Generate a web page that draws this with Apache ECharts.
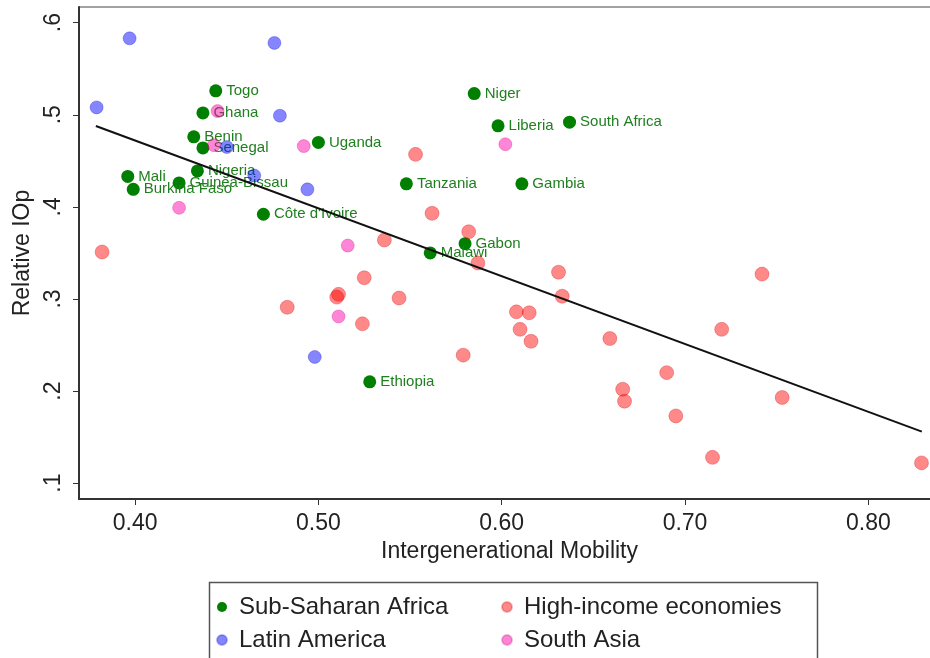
<!DOCTYPE html>
<html>
<head>
<meta charset="utf-8">
<script src="https://cdn.jsdelivr.net/npm/echarts@6/dist/echarts.min.js"></script>
<style>
html,body{margin:0;padding:0;background:#fff;}
#chart{width:930px;height:658px;}
</style>
</head>
<body>
<div id="chart"></div>
<script>
// ---- Data ----
const ssaNames = ["Togo","Ghana","Benin","Senegal","Nigeria","Mali","Burkina Faso","Guinea-Bissau","Uganda","Côte d'Ivoire","Ethiopia","Malawi","Gabon","Tanzania","Gambia","Niger","Liberia","South Africa"];
const ssaX = [0.444,0.437,0.432,0.437,0.434,0.396,0.399,0.424,0.500,0.470,0.528,0.561,0.580,0.548,0.611,0.585,0.598,0.637];
const ssaY = [0.526,0.502,0.476,0.464,0.439,0.433,0.419,0.426,0.470,0.392,0.210,0.350,0.360,0.425,0.425,0.523,0.488,0.492];

const laX = [0.397,0.476,0.379,0.479,0.450,0.465,0.494,0.498];
const laY = [0.583,0.578,0.508,0.499,0.465,0.434,0.419,0.237];

const hieX = [0.382,0.553,0.562,0.582,0.536,0.587,0.631,0.633,0.742,0.608,0.615,0.610,0.616,0.659,0.720,0.690,0.666,0.667,0.695,0.753,0.715,0.829,0.525,0.511,0.510,0.544,0.483,0.524,0.579];
const hieY = [0.351,0.457,0.393,0.373,0.364,0.339,0.329,0.303,0.327,0.286,0.285,0.267,0.254,0.257,0.267,0.220,0.202,0.189,0.173,0.193,0.128,0.122,0.323,0.305,0.302,0.301,0.291,0.273,0.239];

const saX = [0.445,0.443,0.492,0.424,0.516,0.511,0.602];
const saY = [0.504,0.467,0.466,0.399,0.358,0.281,0.468];

const fitX = [0.3786,0.8292];
const fitY = [0.4878,0.1559];

const xTicks = [0.4,0.5,0.6,0.7,0.8];
const xTickLabels = ["0.40","0.50","0.60","0.70","0.80"];
const yTicks = [0.1,0.2,0.3,0.4,0.5,0.6];
const yTickLabels = [".1",".2",".3",".4",".5",".6"];

const seriesNames = ["Sub-Saharan Africa","Latin America","High-income economies","South Asia"];

// ---- Build ----
const FONT = "'Liberation Sans', Arial, Helvetica, sans-serif";
const pair = (xs, ys) => xs.map((x, i) => [x, ys[i]]);
const labelFor = (ticks, labels) => v => {
  for (let i = 0; i < ticks.length; i++) if (Math.abs(ticks[i] - v) < 1e-6) return labels[i];
  return '';
};

const chart = echarts.init(document.getElementById('chart'), null, {renderer: 'canvas'});
const option = {
  animation: false,
  backgroundColor: '#fff',
  textStyle: {fontFamily: FONT},
  grid: {left: 79, right: -10, top: 7, bottom: 159, show: true, borderColor: '#444', borderWidth: 1, containLabel: false, outerBoundsMode: 'none'},
  xAxis: {
    type: 'value', min: 0.3694, max: 0.8391,
    name: 'Intergenerational Mobility', nameLocation: 'middle', nameGap: 41,
    nameTextStyle: {fontSize: 23, color: '#222', fontFamily: FONT},
    axisLine: {show: true, onZero: false, lineStyle: {color: '#333', width: 2}},
    axisTick: {show: true, length: 6, lineStyle: {color: '#333'}, customValues: xTicks},
    axisLabel: {fontSize: 23, color: '#222', margin: 13, fontFamily: FONT, customValues: xTicks, formatter: labelFor(xTicks, xTickLabels)},
    splitLine: {show: false}
  },
  yAxis: {
    type: 'value', min: 0.0828, max: 0.617,
    name: 'Relative IOp', nameLocation: 'middle', nameGap: 45, nameRotate: 90,
    nameTextStyle: {fontSize: 23, color: '#222', fontFamily: FONT},
    axisLine: {show: true, onZero: false, lineStyle: {color: '#333', width: 2}},
    axisTick: {show: true, length: 6, lineStyle: {color: '#333'}, customValues: yTicks},
    axisLabel: {fontSize: 23, color: '#222', margin: 14, rotate: 90, fontFamily: FONT, customValues: yTicks, formatter: labelFor(yTicks, yTickLabels)},
    splitLine: {show: false}
  },
  legend: [
    {
      data: [seriesNames[0], seriesNames[1]], orient: 'vertical', left: 211, top: 590,
      itemWidth: 24, itemHeight: 10, itemGap: 9, icon: 'circle',
      textStyle: {fontSize: 24, color: '#222', lineHeight: 24, fontFamily: FONT}
    },
    {
      data: [seriesNames[2], seriesNames[3]], orient: 'vertical', left: 496, top: 590,
      itemWidth: 24, itemHeight: 10, itemGap: 9, icon: 'circle',
      textStyle: {fontSize: 24, color: '#222', lineHeight: 24, fontFamily: FONT}
    }
  ],
  graphic: [{
    type: 'rect', left: 207, top: 580, shape: {width: 608, height: 100},
    style: {fill: 'none', stroke: '#555', lineWidth: 1.5}, silent: true
  }],
  series: [
    {
      name: seriesNames[0], type: 'scatter', z: 2, symbolSize: 13,
      data: ssaX.map((x, i) => ({name: ssaNames[i], value: [x, ssaY[i]]})),
      itemStyle: {color: '#007f00', opacity: 1},
      label: {show: true, position: 'right', distance: 4, formatter: '{b}', fontSize: 15, color: '#1f7f1f', fontFamily: FONT}
    },
    {
      name: seriesNames[1], type: 'scatter', z: 3, symbolSize: 13,
      data: pair(laX, laY),
      itemStyle: {color: 'rgba(0,0,255,0.6)', borderColor: 'rgba(0,0,200,0.35)', borderWidth: 1}
    },
    {
      name: seriesNames[2], type: 'scatter', z: 3, symbolSize: 14,
      data: pair(hieX, hieY),
      itemStyle: {color: 'rgba(255,0,0,0.58)', borderColor: 'rgba(200,0,0,0.35)', borderWidth: 1}
    },
    {
      name: seriesNames[3], type: 'scatter', z: 3, symbolSize: 13,
      data: pair(saX, saY),
      itemStyle: {color: 'rgba(255,0,170,0.6)', borderColor: 'rgba(200,0,130,0.35)', borderWidth: 1}
    },
    {
      name: 'Fit', type: 'line', z: 5, symbol: 'none', silent: true,
      data: pair(fitX, fitY),
      lineStyle: {color: '#111', width: 2}
    }
  ]
};
chart.setOption(option);
</script>
</body>
</html>
